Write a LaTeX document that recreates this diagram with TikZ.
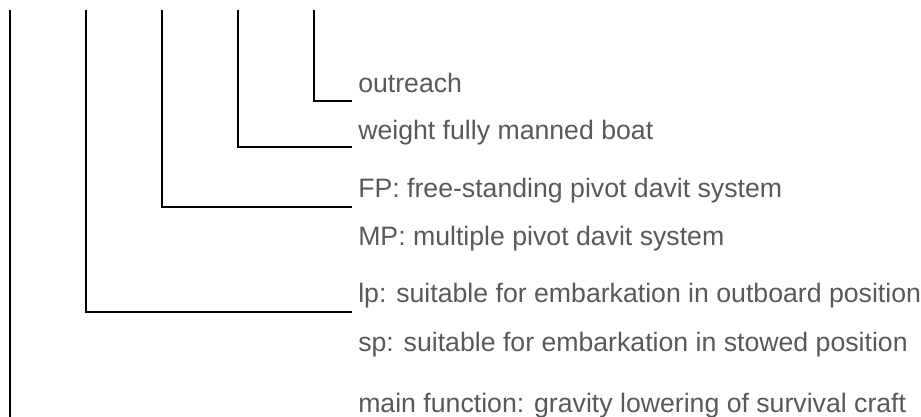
\documentclass[tikz,border=0pt]{standalone}
\usepackage{fontspec}
\setmainfont{Liberation Sans}
\usepackage{tikz}
\definecolor{labelgray}{HTML}{595959}

\begin{document}
\begin{tikzpicture}[
		x=0.75pt, y=-0.75pt,
		every node/.style={anchor=base west, inner sep=0pt, text=labelgray, font=\fontsize{20}{24}\selectfont},
		branch/.style={draw=black, line width=1.5pt}
	]
  \useasboundingbox (0,0) rectangle (921,417);
  \node (outreach) at (358,93) {outreach};
  \node (weight) at (358,140) {weight fully manned boat};
  \node (fp) at (358,198) {FP: free-standing pivot davit system};
  \node (mp) at (358,245) {MP: multiple pivot davit system};
  \node (lp) at (358,302) {lp: suitable for embarkation in outboard position};
  \node (sp) at (358,351) {sp: suitable for embarkation in stowed position};
  \node (main) at (358,412) {main function: gravity lowering of survival craft};
  \coordinate (top_a) at (10,10);
  \coordinate (top_b) at (86,10);
  \coordinate (top_c) at (162,10);
  \coordinate (top_d) at (238,10);
  \coordinate (top_e) at (314,10);
  \coordinate (bottom_a) at (10,417);
  \coordinate (end_outreach) at (352,101);
  \coordinate (end_weight) at (352,147);
  \coordinate (end_fp) at (352,207);
  \coordinate (end_lp) at (352,312);
  \draw [branch] (top_e) |- (end_outreach);
  \draw [branch] (top_d) |- (end_weight);
  \draw [branch] (top_c) |- (end_fp);
  \draw [branch] (top_b) |- (end_lp);
  \draw [branch] (top_a) -- (bottom_a);
\end{tikzpicture}
\end{document}
